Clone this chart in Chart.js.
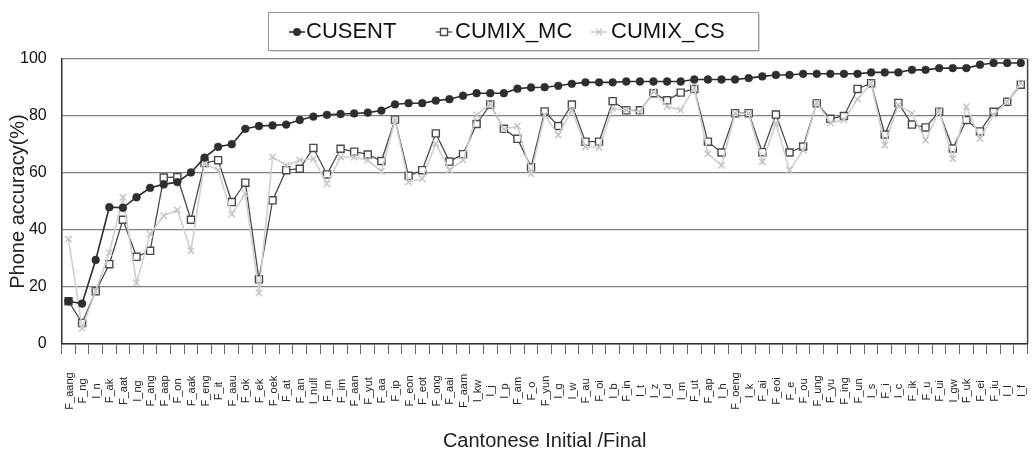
<!DOCTYPE html>
<html>
<head>
<meta charset="utf-8">
<script src="https://cdn.jsdelivr.net/npm/chart.js@4.4.1/dist/chart.umd.min.js"></script>
<style>
  html, body { margin: 0; padding: 0; background: #fff; }
  #wrap { width: 1034px; height: 457px; }
</style>
</head>
<body>
<div id="wrap"><canvas id="c" width="1034" height="457"></canvas></div>
<script>
// Cantonese initials (I_) and finals (F_), ordered by CUSENT accuracy
const categories = [
  'F_aang','F_ng','I_n','F_ak','F_aat','I_ng','F_ang','F_aap','F_on','F_aak',
  'F_eng','F_it','F_aau','F_ok','F_ek','F_oek','F_at','F_an','I_null','F_m',
  'F_im','F_aan','F_yut','F_aa','F_ip','F_eon','F_eot','F_ong','F_aai','F_aam',
  'I_kw','I_j','I_p','F_am','F_o','F_yun','I_g','I_w','F_au','F_oi',
  'I_b','F_in','I_t','I_z','I_d','I_m','F_ut','F_ap','I_h','F_oeng',
  'I_k','F_ai','F_eoi','F_e','F_ou','F_ung','F_yu','F_ing','F_un','I_s',
  'F_i','I_c','F_ik','F_u','F_ui','I_gw','F_uk','F_ei','F_iu','I_l','I_f'
];

// Phone accuracy (%) per unit
const cusent = [
  15, 14.2, 29.5, 48, 47.8, 51.5, 54.8, 56, 56.8, 60.2,
  65.4, 69.2, 70.1, 75.5, 76.5, 76.7, 77, 78.6, 79.8, 80.4,
  80.7, 80.9, 81.2, 81.9, 84.1, 84.5, 84.5, 85.4, 85.9, 87.1,
  88, 88, 88, 89.6, 90, 90.1, 90.6, 91.3, 91.8, 91.8,
  91.8, 92.1, 92.1, 92.1, 92.1, 92.1, 92.8, 92.8, 92.8, 92.8,
  93.3, 93.9, 94.4, 94.4, 94.8, 94.8, 94.8, 94.8, 94.8, 95.3,
  95.3, 95.3, 96.2, 96.2, 96.8, 96.8, 96.8, 98, 98.6, 98.6, 98.6
];
const cumixMC = [
  15, 7.4, 18.5, 28, 43.6, 30.6, 32.7, 58.4, 58.6, 43.6,
  63.5, 64.5, 49.8, 56.6, 22.7, 50.4, 61, 61.5, 68.8, 59.5,
  68.5, 67.5, 66.5, 64.2, 78.7, 59, 61, 73.9, 64, 66.6,
  77.2, 84, 75.5, 72, 62, 81.6, 76.5, 84, 71, 71,
  85.2, 82, 82, 88, 85.5, 88.2, 89.5, 71, 67.2, 81,
  81, 67.3, 80.5, 67.2, 69.3, 84.5, 79, 80, 89.5, 91.5,
  73.5, 84.6, 77, 76, 81.5, 68.6, 78.6, 74.6, 81.5, 85, 91
];
const cumixCS = [
  36.8, 5.6, 18.6, 32.1, 51.5, 21.5, 38.6, 45, 47, 32.7,
  63.3, 61, 45.6, 52.7, 18, 65.6, 62.7, 64.5, 65, 56.2,
  65.6, 65.6, 64.5, 60.6, 78.6, 56.8, 58, 70.4, 61, 64.5,
  80.4, 84.2, 75.3, 76.5, 59.8, 80.4, 73.3, 82.1, 69.2, 68.9,
  82.7, 82.1, 81.5, 88.6, 83.3, 82.1, 89.8, 66.8, 62.7, 80.9,
  80.9, 63.9, 77.4, 61, 68, 84.7, 77.6, 78.6, 85.9, 91.5,
  69.8, 83.9, 80.9, 71.5, 81.9, 65, 83.3, 72.1, 80.4, 85, 91.5
];
const seriesNames = ['CUSENT', 'CUMIX_MC', 'CUMIX_CS'];
const yTickValues = [0, 20, 40, 60, 80, 100];

const FONT = '"Liberation Sans", Arial, Helvetica, sans-serif';

// Rotated category labels, centred under each tick
const categoryLabels = {
  id: 'categoryLabels',
  afterDraw(chart) {
    const xs = chart.scales.x;
    const ctx = chart.ctx;
    ctx.save();
    ctx.font = '11px ' + FONT;
    ctx.fillStyle = '#222';
    ctx.textAlign = 'center';
    ctx.textBaseline = 'middle';
    const yMid = chart.chartArea.bottom + 47;
    chart.data.labels.forEach((lab, i) => {
      const x = xs.getPixelForValue(i);
      ctx.save();
      ctx.translate(x + 1, yMid);
      ctx.rotate(-Math.PI / 2);
      ctx.fillText(lab, 0, 0);
      ctx.restore();
    });
    ctx.restore();
  }
};

// Right-hand edge of the plot frame
const plotFrame = {
  id: 'plotFrame',
  afterDatasetsDraw(chart) {
    const { right, top, bottom } = chart.chartArea;
    const ctx = chart.ctx;
    ctx.save();
    ctx.strokeStyle = '#444';
    ctx.lineWidth = 1.5;
    ctx.beginPath();
    ctx.moveTo(right, top);
    ctx.lineTo(right, bottom);
    ctx.stroke();
    ctx.restore();
  }
};

// Boxed legend with line-and-marker samples
const boxedLegend = {
  id: 'boxedLegend',
  afterDraw(chart) {
    const ctx = chart.ctx;
    const box = { x: 268, y: 12, w: 490, h: 38 };
    ctx.save();
    ctx.fillStyle = '#d8d8d8';
    ctx.fillRect(box.x + 2, box.y + 2, box.w, box.h);
    ctx.fillStyle = '#fff';
    ctx.fillRect(box.x, box.y, box.w, box.h);
    ctx.strokeStyle = '#9a9a9a';
    ctx.lineWidth = 1;
    ctx.strokeRect(box.x + 0.5, box.y + 0.5, box.w, box.h);
    const cy = box.y + box.h / 2 + 1;
    const items = [
      { mx: 297, tx: 306 },
      { mx: 444, tx: 455 },
      { mx: 599, tx: 611 }
    ];
    ctx.font = '22px ' + FONT;
    ctx.textBaseline = 'middle';
    ctx.textAlign = 'left';
    chart.data.datasets.forEach((ds, i) => {
      const it = items[i];
      ctx.strokeStyle = ds.borderColor;
      ctx.lineWidth = ds.borderWidth;
      ctx.beginPath();
      ctx.moveTo(it.mx - 8, cy);
      ctx.lineTo(it.mx + 8, cy);
      ctx.stroke();
      ctx.fillStyle = ds.pointBackgroundColor;
      ctx.strokeStyle = ds.pointBorderColor;
      ctx.lineWidth = ds.pointBorderWidth;
      ctx.beginPath();
      if (ds.pointStyle === 'circle') {
        ctx.arc(it.mx, cy, ds.pointRadius, 0, Math.PI * 2);
        ctx.fill();
      } else if (ds.pointStyle === 'rect') {
        const s = ds.pointRadius * Math.SQRT1_2;
        ctx.rect(it.mx - s, cy - s, 2 * s, 2 * s);
        ctx.fill();
        ctx.stroke();
      } else {
        const s = ds.pointRadius * Math.SQRT1_2;
        ctx.moveTo(it.mx - s, cy - s); ctx.lineTo(it.mx + s, cy + s);
        ctx.moveTo(it.mx + s, cy - s); ctx.lineTo(it.mx - s, cy + s);
        ctx.stroke();
      }
      ctx.fillStyle = '#111';
      ctx.fillText(ds.label, it.tx, cy);
    });
    ctx.restore();
  }
};

new Chart(document.getElementById('c'), {
  type: 'line',
  data: {
    labels: categories,
    datasets: [
      {
        label: seriesNames[0],
        data: cusent,
        borderColor: '#2e2e2e',
        borderWidth: 1.6,
        pointStyle: 'circle',
        pointRadius: 3.9,
        pointBorderWidth: 0.5,
        pointBackgroundColor: '#2e2e2e',
        pointBorderColor: '#2e2e2e',
        order: 0
      },
      {
        label: seriesNames[1],
        data: cumixMC,
        borderColor: '#4a4a4a',
        borderWidth: 1.3,
        pointStyle: 'rect',
        pointRadius: 5,
        pointBorderWidth: 1.4,
        pointBackgroundColor: '#ffffff',
        pointBorderColor: '#4a4a4a',
        order: 2
      },
      {
        label: seriesNames[2],
        data: cumixCS,
        borderColor: '#cfcfcf',
        borderWidth: 1.6,
        pointStyle: 'crossRot',
        pointRadius: 4.5,
        pointBorderWidth: 1.4,
        pointBackgroundColor: '#cfcfcf',
        pointBorderColor: '#c4c4c4',
        order: 1
      }
    ]
  },
  options: {
    responsive: false,
    animation: false,
    devicePixelRatio: 1,
    layout: { padding: { left: 4, right: 2, top: 59, bottom: 4 } },
    plugins: {
      legend: { display: false },
      tooltip: { enabled: false }
    },
    elements: { line: { tension: 0 } },
    scales: {
      x: {
        type: 'category',
        offset: true,
        grid: {
          offset: true,
          drawOnChartArea: false,
          drawTicks: true,
          tickLength: 10,
          color: '#666',
          lineWidth: 1
        },
        border: { color: '#333', width: 1.5 },
        ticks: { display: false },
        title: {
          display: true,
          text: 'Cantonese Initial /Final',
          color: '#222',
          font: { family: FONT, size: 20 },
          padding: { top: 75, bottom: 0 }
        }
      },
      y: {
        min: 0,
        max: 100,
        afterBuildTicks(scale) {
          scale.ticks = yTickValues.map(v => ({ value: v }));
        },
        grid: { color: '#808080', lineWidth: 1.2, drawTicks: false },
        border: { color: '#333', width: 1.5 },
        ticks: {
          color: '#111',
          font: { family: FONT, size: 16 },
          padding: 15
        },
        title: {
          display: true,
          text: 'Phone accuracy(%)',
          color: '#222',
          font: { family: FONT, size: 20 },
          padding: { top: 2, bottom: -25 }
        }
      }
    }
  },
  plugins: [categoryLabels, plotFrame, boxedLegend]
});
</script>
</body>
</html>
